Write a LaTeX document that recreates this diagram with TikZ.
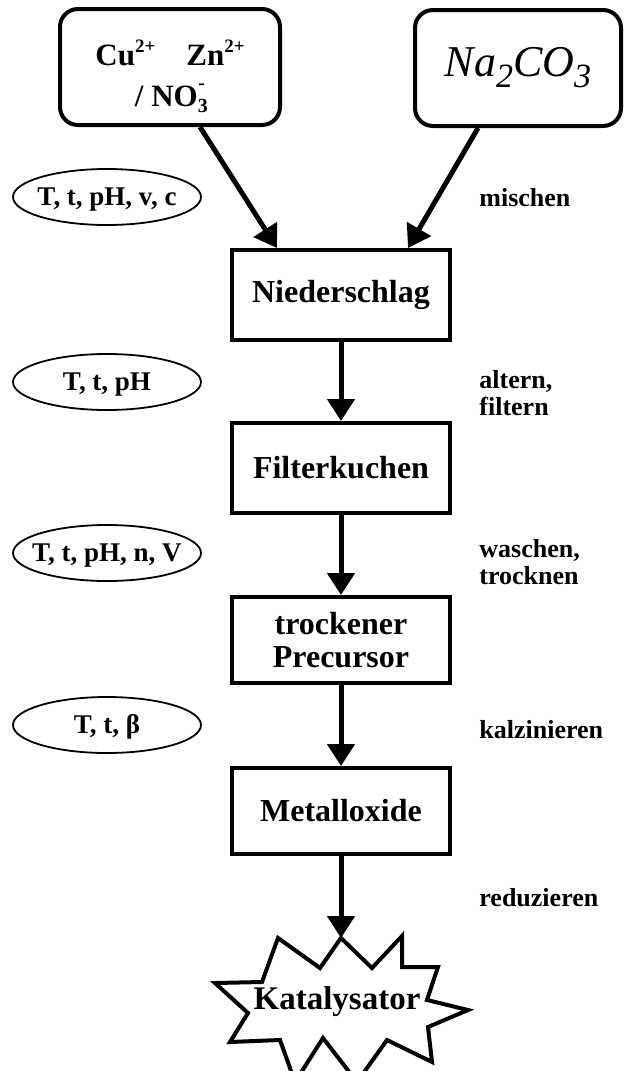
\documentclass[tikz,border=0pt]{standalone}
\usepackage{fontspec}
\setmainfont{Liberation Serif}
\usetikzlibrary{arrows.meta,positioning,shapes.geometric,calc}
% subscript with a charge above it, as in NO3-
\newcommand{\ionsubsup}[2]{\raisebox{-0.45ex}{\fontsize{10}{10}\selectfont #1}\kern-0.3em\raisebox{1.15ex}{\fontsize{10}{10}\selectfont #2}}
\newcommand{\lowsub}[1]{\raisebox{-0.55ex}{\fontsize{17}{17}\selectfont #1}}
\newcommand{\highsup}[1]{\raisebox{0.9ex}{\fontsize{9.5}{10}\selectfont #1}}

\begin{document}
\begin{tikzpicture}[x=0.5pt,y=-0.5pt,
    srcbox/.style={draw,line width=2pt,rounded corners=9pt,minimum height=58pt,inner sep=0pt,align=center},
    stepbox/.style={draw,line width=2pt,minimum width=109pt,inner sep=0pt,align=center,font=\fontsize{16}{16.5}\selectfont\bfseries},
    param/.style={draw,ellipse,line width=0.9pt,minimum width=94pt,minimum height=28pt,inner xsep=-5.5pt,inner ysep=0pt,
      text height=8.8pt,text depth=0pt,font=\fontsize{13.5}{14}\selectfont\bfseries},
    proc/.style={anchor=west,align=left,inner sep=0pt,font=\fontsize{13}{13.5}\selectfont\bfseries},
    flow/.style={line width=2.5pt,-{Triangle[length=11pt,width=13.5pt]}}]
  \useasboundingbox (0,0) rectangle (628,1071);
  \clip (0,0) rectangle (628,1071);

  % educts
  \node[srcbox,minimum width=110pt,font=\fontsize{15.5}{20.5}\selectfont\bfseries] (cuzn) at (170,67)
    {\rule{0pt}{22pt}Cu\highsup{2+}\quad Zn\highsup{2+}\\/ NO\ionsubsup{3}{-}};
  \node[srcbox,minimum width=103pt,font=\fontsize{22}{24}\selectfont\itshape] (soda) at (518,68)
    {Na\lowsub{2}CO\lowsub{3}};

  % steps
  \node[stepbox,minimum height=45pt] (nied) at (341,295) {Niederschlag};
  \node[stepbox,minimum height=45pt] (filt) at (341,468) {Filterkuchen};
  \node[stepbox,minimum height=43pt] (prec) at (341,640) {trockener\\Precursor};
  \node[stepbox,minimum height=43pt] (metox) at (341,811) {Metalloxide};

  % catalyst
  \draw[line width=2pt] (341,938) -- (372,968) -- (402,936) -- (402,967) -- (438,967)
    -- (427,1000) -- (468,1010) -- (428,1027) -- (432,1062) -- (387,1040) -- (357,1082)
    -- (323,1038) -- (295,1082) -- (280,1040) -- (230,1042) -- (248,1013) -- (215,983)
    -- (262,982) -- (278,938) -- (320,968) -- cycle;
  \coordinate (kattop) at (341,938);
  \node[font=\fontsize{16.5}{17}\selectfont\bfseries] (kat) at (337,1002) {Katalysator};

  % parameters
  \node[param] (parmix) at (107,197) {T, t, pH, v, c};
  \node[param] (parage) at (107,382) {T, t, pH};
  \node[param] (parwash) at (107,553) {T, t, pH, n, V};
  \node[param] (parcalc) at (107,725) {T, t, β};

  % operations
  \node[proc] (mix) at (479,198) {mischen};
  \node[proc] (age) at (479,393) {altern,\\filtern};
  \node[proc] (wash) at (479,562) {waschen,\\trocknen};
  \node[proc] (calc) at (479,730) {kalzinieren};
  \node[proc] (red) at (479,898) {reduzieren};

  % flow
  \draw[flow] ($(cuzn.south)+(30,0)$) -- ($(nied.north)+(-64,0)$);
  \draw[flow] ($(soda.south)+(-40,0)$) -- ($(nied.north)+(67,0)$);
  \draw[flow] (nied) -- (filt);
  \draw[flow] (filt) -- (prec);
  \draw[flow] (prec) -- (metox);
  \draw[flow] (metox) -- (kattop);
\end{tikzpicture}
\end{document}
